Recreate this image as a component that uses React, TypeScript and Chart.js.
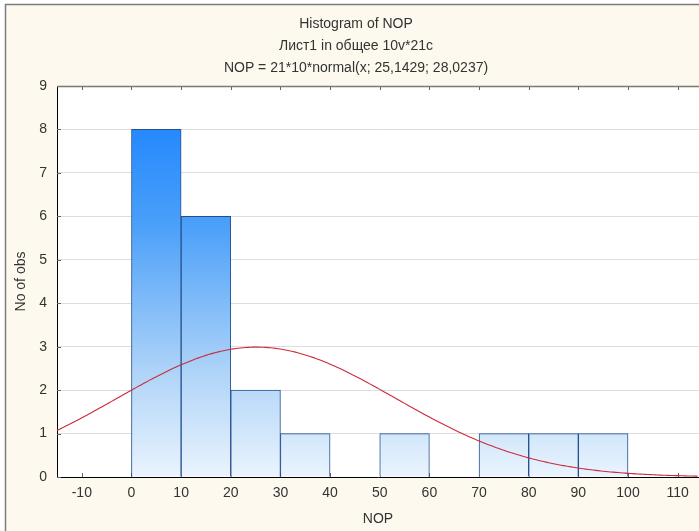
import { useEffect, useRef } from "react";
import { Chart, registerables } from "chart.js";

Chart.register(...registerables);

// Histogram bins of NOP (left edges) and their observation counts
const BIN_STARTS = [0, 10, 20, 30, 40, 50, 60, 70, 80, 90];
const BIN_WIDTH = 10;
const COUNTS = [8, 6, 2, 1, 0, 1, 0, 1, 1, 1];

// Axis ticks
const X_TICKS = [-10, 0, 10, 20, 30, 40, 50, 60, 70, 80, 90, 100, 110];
const Y_TICKS = [0, 1, 2, 3, 4, 5, 6, 7, 8, 9];
const X_MIN = -15;
const X_MAX = 114.3;
const Y_MIN = 0;
const Y_MAX = 9;

// Fitted normal curve parameters: N * binWidth * normal(x; mean; sd)
const N_OBS = 21;
const MEAN = 25.1429;
const SD = 28.0237;
const CURVE_STEP = 0.5;

const fmtComma = (v: number) => String(v).replace(".", ",");

const TITLE_LINES = [
  "Histogram of NOP",
  "Лист1 in общее 10v*21c",
  `NOP = ${N_OBS}*${BIN_WIDTH}*normal(x; ${fmtComma(MEAN)}; ${fmtComma(SD)})`,
];

const FONT = "'Liberation Sans', Arial, sans-serif";
const TEXT_COLOR = "#333333";
const CREAM = "#fdf9ee";

function normalCount(x: number) {
  const z = (x - MEAN) / SD;
  return (N_OBS * BIN_WIDTH * Math.exp(-0.5 * z * z)) / (SD * Math.sqrt(2 * Math.PI));
}

const curvePoints: { x: number; y: number }[] = [];
for (let x = X_MIN; x <= X_MAX + 1e-9; x += CURVE_STEP) {
  curvePoints.push({ x, y: normalCount(x) });
}

// Page background, frame, top axis line, inward ticks and the three-line title
const decorPlugin = {
  id: "decor",
  beforeDraw(chart: any) {
    const { ctx, width, height, chartArea } = chart;
    ctx.save();
    ctx.fillStyle = "#ffffff";
    ctx.fillRect(0, 0, width, height);
    ctx.fillStyle = CREAM;
    ctx.fillRect(5, 4, width - 5, height - 4);
    ctx.strokeStyle = "#7d7d7d";
    ctx.lineWidth = 1.5;
    ctx.beginPath();
    ctx.moveTo(5.5, height);
    ctx.lineTo(5.5, 4.5);
    ctx.lineTo(width, 4.5);
    ctx.stroke();
    ctx.fillStyle = "#ffffff";
    ctx.fillRect(chartArea.left, chartArea.top, chartArea.right - chartArea.left, chartArea.bottom - chartArea.top);
    ctx.restore();
  },
  beforeDatasetsDraw(chart: any) {
    const { ctx, chartArea, scales } = chart;
    ctx.save();
    ctx.strokeStyle = "#666666";
    ctx.lineWidth = 1;
    ctx.beginPath();
    for (const v of X_TICKS) {
      const px = Math.round(scales.x.getPixelForValue(v)) + 0.5;
      ctx.moveTo(px, chartArea.bottom);
      ctx.lineTo(px, chartArea.bottom - 4);
      ctx.moveTo(px, chartArea.top);
      ctx.lineTo(px, chartArea.top + 4);
    }
    for (const v of Y_TICKS) {
      const py = Math.round(scales.y.getPixelForValue(v)) + 0.5;
      ctx.moveTo(chartArea.left, py);
      ctx.lineTo(chartArea.left + 4, py);
    }
    ctx.stroke();
    ctx.restore();
  },
  afterDraw(chart: any) {
    const { ctx, chartArea } = chart;
    ctx.save();
    ctx.strokeStyle = "#7a7a72";
    ctx.lineWidth = 1.5;
    ctx.beginPath();
    ctx.moveTo(chartArea.left, chartArea.top + 0.5);
    ctx.lineTo(chartArea.right, chartArea.top + 0.5);
    ctx.stroke();

    ctx.fillStyle = TEXT_COLOR;
    ctx.font = `14px ${FONT}`;
    ctx.textAlign = "center";
    ctx.textBaseline = "middle";
    TITLE_LINES.forEach((line, i) => {
      ctx.fillText(line, 356, 24 + i * 22);
    });
    ctx.restore();
  },
};

export default function App() {
  const canvasRef = useRef<HTMLCanvasElement | null>(null);

  useEffect(() => {
    const canvas = canvasRef.current;
    if (!canvas) return;

    const barGradient = (context: any) => {
      const { chart } = context;
      const area = chart.chartArea;
      if (!area) return "#5aa5f7";
      const g = chart.ctx.createLinearGradient(0, area.top, 0, area.bottom);
      g.addColorStop(0, "#1480ff");
      g.addColorStop(0.35, "#4a9ff9");
      g.addColorStop(0.75, "#b3d6f8");
      g.addColorStop(1, "#eaf4fe");
      return g;
    };

    const chart = new Chart(canvas, {
      type: "bar",
      data: {
        datasets: [
          {
            type: "line",
            data: curvePoints,
            borderColor: "#cc2b3a",
            borderWidth: 1.1,
            pointRadius: 0,
            tension: 0,
            fill: false,
            order: 0,
          } as any,
          {
            type: "bar",
            data: BIN_STARTS.map((s, i) => ({ x: s + BIN_WIDTH / 2, y: COUNTS[i] })),
            backgroundColor: barGradient,
            borderColor: "#24508f",
            borderWidth: 1,
            barPercentage: 1,
            categoryPercentage: 1,
            order: 1,
          } as any,
        ],
      },
      options: {
        animation: false,
        responsive: false,
        devicePixelRatio: 1,
        events: [],
        layout: { padding: { top: 86, left: 0, right: 0, bottom: 0 } },
        plugins: {
          legend: { display: false },
          tooltip: { enabled: false },
          title: { display: false },
        },
        font: { family: FONT },
        scales: {
          x: {
            type: "linear",
            min: X_MIN,
            max: X_MAX,
            offset: false,
            afterBuildTicks: (scale: any) => {
              scale.ticks = X_TICKS.map((v) => ({ value: v }));
            },
            afterFit: (scale: any) => {
              scale.height = 54;
            },
            grid: { display: false, drawTicks: false, offset: false },
            border: { display: true, color: "#000000", width: 1 },
            ticks: {
              padding: 8,
              color: TEXT_COLOR,
              font: { family: FONT, size: 14 },
              maxRotation: 0,
              autoSkip: false,
            },
            title: {
              display: true,
              text: "NOP",
              color: TEXT_COLOR,
              font: { family: FONT, size: 14 },
              padding: { top: 0, bottom: 3 },
            },
          },
          y: {
            type: "linear",
            min: Y_MIN,
            max: Y_MAX,
            afterBuildTicks: (scale: any) => {
              scale.ticks = Y_TICKS.map((v) => ({ value: v }));
            },
            afterFit: (scale: any) => {
              scale.width = 57;
            },
            grid: { display: true, color: "#dddddd", lineWidth: 1, drawTicks: false },
            border: { display: true, color: "#000000", width: 1 },
            ticks: {
              padding: 10,
              color: TEXT_COLOR,
              font: { family: FONT, size: 14 },
            },
            title: {
              display: true,
              text: "No of obs",
              color: TEXT_COLOR,
              font: { family: FONT, size: 14 },
              padding: { top: 13, bottom: 0 },
            },
          },
        },
      } as any,
      plugins: [decorPlugin],
    });

    return () => chart.destroy();
  }, []);

  return (
    <div style={{ position: "fixed", left: 0, top: 0, width: 699, height: 531 }}>
      <canvas ref={canvasRef} width={699} height={531} style={{ display: "block" }} />
    </div>
  );
}
